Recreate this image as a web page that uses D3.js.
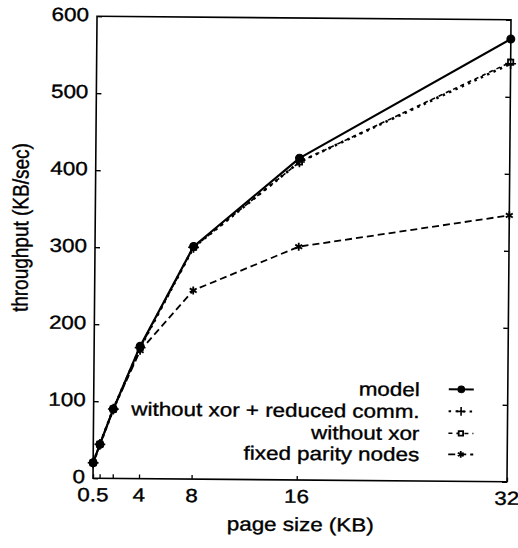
<!DOCTYPE html>
<html><head><meta charset="utf-8">
<script src="https://cdn.jsdelivr.net/npm/d3@7"></script>
<style>body{margin:0;background:#fff}</style>
</head><body><svg id="c" width="518" height="548"></svg>
<script>
// ---- data ----
const pageSizes   = [0.5, 1, 2, 4, 8, 16, 32];
const model       = [20, 44, 90, 172, 302, 418, 575];
const reducedComm = [20, 44, 90, 170, 301, 413, 543];
const withoutXor  = [20, 44, 90, 170, 301, 413, 545];
const fixedParity = [20, 44, 90, 166, 245, 303, 346];
const seriesNames = ["model", "without xor + reduced comm.", "without xor", "fixed parity nodes"];
const xTickValues = [0.5, 1, 2, 4, 8, 16, 32];
const xTickLabels = ["0.5", "", "", "4", "8", "16", "32"];
const yTickValues = [0, 100, 200, 300, 400, 500, 600];
const xTitle = "page size (KB)";
const yTitle = "throughput (KB/sec)";

// ---- layout ----
const W = 518, H = 548;
const m = {l: 95, r: 509, t: 18, b: 480};
const FS = 19, SX = 1.18, FONT = '"Liberation Sans", Arial, Helvetica, sans-serif';

const x = d3.scaleLinear().domain([0.5, 32]).range([m.l, m.r]);
const y = d3.scaleLinear().domain([0, 600]).range([m.b, m.t]);

const svg = d3.select('#c');
svg.append('rect').attr('width', W).attr('height', H).attr('fill', '#fff');
const g = svg.append('g').attr('transform', 'rotate(0.5,301.5,249.5)');

function txt(x0, y0, s, anchor, rot) {
  g.append('text')
    .attr('transform', `translate(${x0},${y0}) scale(${SX},1)` + (rot ? ` rotate(${rot})` : ''))
    .attr('text-anchor', anchor)
    .attr('font-family', FONT)
    .attr('font-size', FS)
    .attr('fill', '#000')
    .attr('stroke', '#000')
    .attr('stroke-width', 0.35)
    .text(s);
}

// axes tick marks (inward)
const axL = g.append('g').attr('transform', `translate(${m.l},0)`)
  .call(d3.axisLeft(y).tickValues(yTickValues).tickSize(-5).tickFormat(''));
const axR = g.append('g').attr('transform', `translate(${m.r},0)`)
  .call(d3.axisRight(y).tickValues(yTickValues).tickSize(-5).tickFormat(''));
const axB = g.append('g').attr('transform', `translate(0,${m.b})`)
  .call(d3.axisBottom(x).tickValues(xTickValues).tickSize(-4).tickFormat(''));
[axL, axR, axB].forEach(a => {
  a.select('.domain').remove();
  a.selectAll('line').attr('stroke', '#000').attr('stroke-width', 1.3);
});

// frame
g.append('rect').attr('x', m.l).attr('y', m.t)
  .attr('width', m.r - m.l).attr('height', m.b - m.t)
  .attr('fill', 'none').attr('stroke', '#000').attr('stroke-width', 1.6);

// tick labels
yTickValues.forEach(v => txt(m.l - 8, y(v) + 5, String(v), 'end'));
xTickValues.forEach((v, i) => { if (xTickLabels[i]) txt(x(v), m.b + 23, xTickLabels[i], 'middle'); });

// titles
txt(x(16.3), 531, xTitle, 'middle');
txt(28, 230, yTitle, 'middle', -90);

// series
const series = [
  {name: seriesNames[3], vals: fixedParity, dash: '7,4', w: 1.8, sym: d3.symbolAsterisk, size: 45, fill: 'none', sw: 1.8},
  {name: seriesNames[2], vals: withoutXor, dash: '4,4', w: 1.6, sym: d3.symbolSquare, size: 28, fill: '#fff', sw: 1.8},
  {name: seriesNames[1], vals: reducedComm, dash: '2.5,4.5', w: 2.6, sym: d3.symbolPlus, size: 40, fill: 'none', sw: 1.6},
  {name: seriesNames[0], vals: model, dash: null, w: 2.2, sym: d3.symbolCircle, size: 50, fill: '#000', sw: 1}
];
const line = d3.line().x(d => x(d[0])).y(d => y(d[1]));

series.forEach(s => {
  const pts = pageSizes.map((p, i) => [p, s.vals[i]]);
  g.append('path').attr('d', line(pts)).attr('fill', 'none')
    .attr('stroke', '#000').attr('stroke-width', s.w)
    .attr('stroke-dasharray', s.dash).attr('stroke-linejoin', 'round');
  g.selectAll(null).data(pts).enter().append('path')
    .attr('transform', d => `translate(${x(d[0])},${y(d[1])})`)
    .attr('d', d3.symbol(s.sym, s.size))
    .attr('fill', s.fill).attr('stroke', '#000').attr('stroke-width', s.sw);
});

// legend
const legendOrder = [3, 2, 1, 0];
const legendBase = [395, 417, 439, 460];
legendOrder.forEach((si, r) => {
  const s = series[si];
  const by = legendBase[r];
  txt(421, by, s.name, 'end');
  g.append('line').attr('x1', 450).attr('x2', 475).attr('y1', by - 7).attr('y2', by - 7)
    .attr('stroke', '#000').attr('stroke-width', Math.min(s.w, 2))
    .attr('stroke-dasharray', s.dash);
  g.append('path').attr('transform', `translate(462.5,${by - 7})`)
    .attr('d', d3.symbol(s.sym, s.size * 0.7))
    .attr('fill', s.fill).attr('stroke', '#000').attr('stroke-width', s.sw);
});
</script>
</body></html>
